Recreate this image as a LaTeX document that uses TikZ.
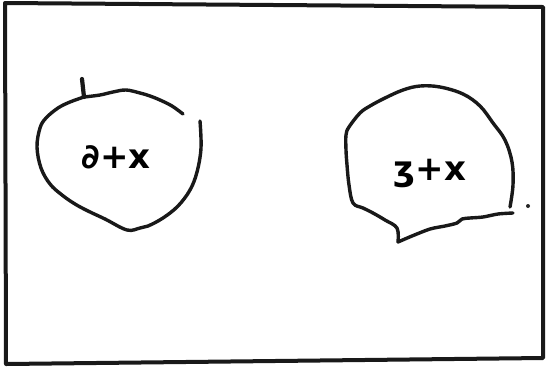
\documentclass[tikz,border=0pt]{standalone}
\usepackage{fontspec}
\newfontfamily\handfont{DejaVu Sans}
\begin{document}
\begin{tikzpicture}[x=1pt,y=-1pt,
  ink/.style={draw=black!90, line width=3.4pt, line cap=round, line join=round},
  frameline/.style={draw=black!90, line width=4pt, line join=round},
  label/.style={font=\handfont\bfseries\fontsize{34}{36}\selectfont, inner sep=0pt}]
\useasboundingbox (0,0) rectangle (546,376);
\fill[white] (0,0) rectangle (546,376);
% frame
\draw[frameline] (5,3) -- (543,7) -- (543,358) -- (6,364) -- cycle;
% left circle
\draw[ink, line width=4.2pt] (82,79) -- (84,97);
\draw[ink] plot[smooth, tension=0.6] coordinates {(84,97) (100,95) (113,92) (126,90) (140,93) (150,96) (160,100) (172,106) (183,114)};
\draw[ink] plot[smooth, tension=0.6] coordinates {(84,97) (70,102) (58,108) (46,118) (40,128) (37,147) (41,168) (50,184) (62,195) (75,204) (88,211) (105,219) (127,230) (140,228) (148,226) (163,218) (178,206) (190,190) (197,172) (201,148) (200,121)};
\node[label] (lt) at (116,157) {∂+x};
% right circle
\draw[ink] plot[smooth, tension=0.6] coordinates {(510,207) (513,185) (512,162) (505,140) (493,123) (480,106) (463,94) (440,87) (420,86) (403,90) (385,98) (370,106) (360,113) (349,127) (346,135) (346,150) (347,165) (349,185) (353,203) (363,208) (373,213) (385,220) (397,228) (398,242)};
\draw[ink] plot[smooth, tension=0.5] coordinates {(398,242) (412,236) (430,229) (445,226) (457,223) (462,219) (470,218) (483,217) (498,214) (513,213)};
\fill[black!85] (528,206) circle (2pt);
\node[label] (rt) at (430,173) {ʒ+x};
\end{tikzpicture}
\end{document}
